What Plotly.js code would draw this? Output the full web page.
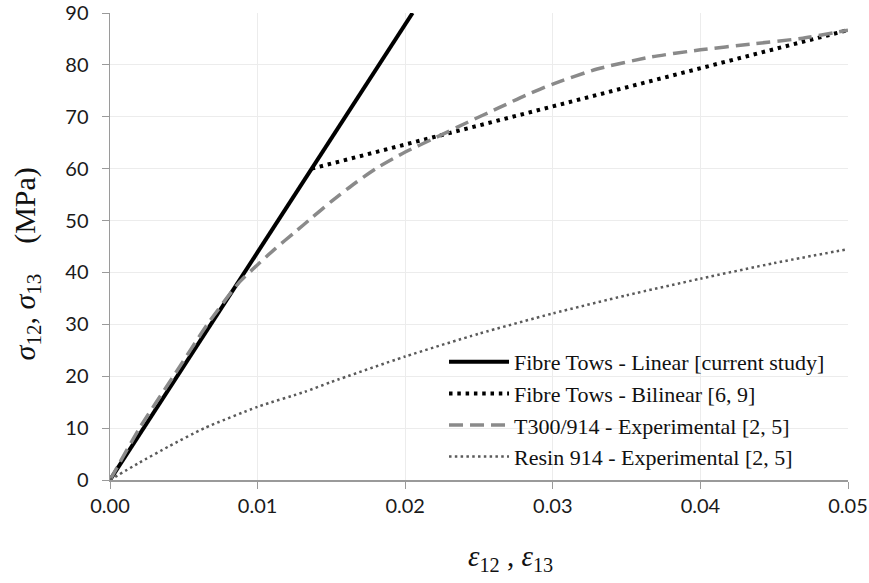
<!DOCTYPE html>
<html>
<head>
<meta charset="utf-8">
<script src="https://cdn.plot.ly/plotly-3.0.1.min.js"></script>
<style>html,body{margin:0;padding:0;background:#fff;}#chart{width:869px;height:583px;}</style>
</head>
<body>
<div id="chart"></div>
<script>
// Series names
const seriesNames = [
  "Fibre Tows - Linear [current study]",
  "Fibre Tows - Bilinear [6, 9]",
  "T300/914 - Experimental [2, 5]",
  "Resin 914 - Experimental [2, 5]"
];

// Fibre Tows - Linear
const linearStrain = [0, 0.0205];
const linearStress = [0, 90];

// Fibre Tows - Bilinear (second branch)
const bilinearStrain = [0.01366, 0.05];
const bilinearStress = [60, 86.7];

// T300/914 experimental
const t300Strain = [0, 0.002, 0.0043, 0.0066, 0.0087, 0.0100, 0.0112, 0.0125, 0.0137, 0.0150, 0.0165, 0.0180, 0.0200, 0.0220, 0.0242, 0.0264, 0.0282, 0.0300, 0.0330, 0.0366, 0.0400, 0.0434, 0.0468, 0.0500];
const t300Stress = [0, 10, 20, 30, 37.9, 41.5, 44.6, 47.7, 50.6, 53.7, 57.0, 60.0, 63.2, 65.9, 68.9, 71.8, 74.2, 76.3, 79.2, 81.5, 82.9, 84.0, 85.1, 86.7];

// Resin 914 experimental
const resinStrain = [0, 0.0019, 0.0040, 0.0064, 0.0100, 0.0132, 0.0150, 0.0200, 0.0250, 0.0300, 0.0350, 0.0400, 0.0450, 0.0500];
const resinStress = [0, 3.2, 6.5, 10.0, 14.1, 17.0, 18.9, 23.8, 28.2, 32.1, 35.6, 38.8, 41.8, 44.5];

// Tick labels
const xTickVals = [0, 0.01, 0.02, 0.03, 0.04, 0.05];
const xTickText = ["0.00", "0.01", "0.02", "0.03", "0.04", "0.05"];
const yTickVals = [0, 10, 20, 30, 40, 50, 60, 70, 80, 90];

const tickFont = {family: "Lato, 'Open Sans', sans-serif", size: 20, color: "#1a1a1a"};
const serif = "'Liberation Serif', 'DejaVu Serif', serif";

const traces = [
  {x: linearStrain, y: linearStress, name: seriesNames[0], mode: "lines",
   line: {color: "#000000", width: 4}},
  {x: bilinearStrain, y: bilinearStress, name: seriesNames[1], mode: "lines",
   line: {color: "#000000", width: 4, dash: "3.5px,4.8px"}},
  {x: t300Strain, y: t300Stress, name: seriesNames[2], mode: "lines",
   line: {color: "#8a8a8a", width: 3.5, dash: "14px,7px", shape: "spline", smoothing: 0.6}},
  {x: resinStrain, y: resinStress, name: seriesNames[3], mode: "lines",
   line: {color: "#5a5a5a", width: 2.5, dash: "2.5px,3.3px", shape: "spline", smoothing: 0.6}}
];

const layout = {
  width: 869, height: 583,
  margin: {l: 110, r: 21, t: 13, b: 103},
  paper_bgcolor: "#ffffff", plot_bgcolor: "#ffffff",
  showlegend: true,
  legend: {x: 0.4526, y: 0.2976, xanchor: "left", yanchor: "top",
           bgcolor: "rgba(0,0,0,0)", borderwidth: 0,
           font: {family: serif, size: 22, color: "#111"},
           itemwidth: 60},
  xaxis: {range: [0, 0.05], tickvals: xTickVals, ticktext: xTickText,
          showgrid: true, gridcolor: "#ececec", gridwidth: 1,
          showline: true, linecolor: "#9a9a9a", linewidth: 1.5,
          ticks: "outside", ticklen: 7, tickcolor: "#9a9a9a", tickwidth: 1,
          tickfont: tickFont, zeroline: false, fixedrange: true},
  yaxis: {range: [0, 90], tickvals: yTickVals,
          showgrid: true, gridcolor: "#ececec", gridwidth: 1,
          showline: true, linecolor: "#9a9a9a", linewidth: 1.5,
          ticks: "outside", ticklen: 7, tickcolor: "#9a9a9a", tickwidth: 1,
          ticklabelstandoff: 9,
          tickfont: tickFont, zeroline: false, fixedrange: true},
  annotations: [
    {text: "<i>σ</i><sub>12</sub>, <i>σ</i><sub>13</sub>&nbsp;&nbsp;&nbsp; (MPa)", xref: "paper", yref: "paper",
     x: -0.113, y: 0.463, xanchor: "center", yanchor: "middle", textangle: -90, showarrow: false,
     font: {family: serif, size: 30, color: "#111"}},
    {text: "<i>ε</i><sub>12</sub> , <i>ε</i><sub>13</sub>", xref: "paper", yref: "paper",
     x: 0.543, y: -0.168, xanchor: "center", yanchor: "middle", showarrow: false,
     font: {family: serif, size: 29, color: "#111"}}
  ]
};

Plotly.newPlot("chart", traces, layout, {staticPlot: true, displayModeBar: false});
</script>
</body>
</html>
